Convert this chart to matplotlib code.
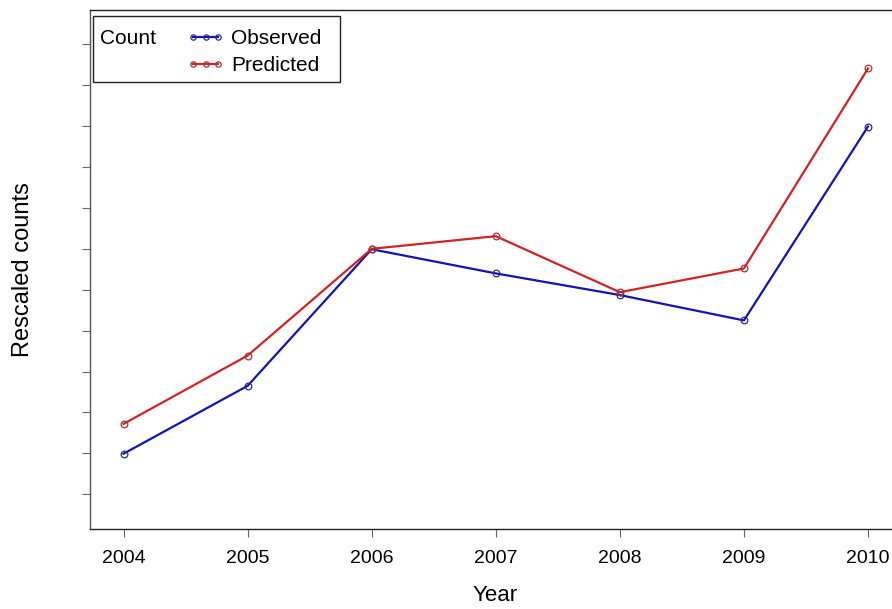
import matplotlib
matplotlib.use("Agg")
import matplotlib.pyplot as plt
from matplotlib.patches import Rectangle

plt.rcParams['font.family'] = ['Liberation Sans', 'DejaVu Sans']

# rescaled yearly counts
years = [2004, 2005, 2006, 2007, 2008, 2009, 2010]
observed = [0.99, 2.65, 5.99, 5.40, 4.87, 4.25, 8.99]
predicted = [1.72, 3.39, 6.00, 6.31, 4.94, 5.52, 10.41]
y_ticks = list(range(12))

fig = plt.figure(figsize=(8.92, 6.09), dpi=100)
# axes runs a little past the right edge of the figure
ax = fig.add_axes([90 / 892, 80 / 609, 810 / 892, 519 / 609])

ax.plot(years, observed, color='#1414b4', lw=1.6, marker='o', ms=4.8,
        mfc='none', mec='#2a2a8c', mew=0.9, label='Observed')
ax.plot(years, predicted, color='#d02424', lw=1.6, marker='o', ms=4.8,
        mfc='none', mec='#a83030', mew=0.9, label='Predicted')

ax.set_xlim(2003.73, 2010.258)
ax.set_ylim(-0.85, 11.84)
ax.set_xticks(years)
ax.set_yticks(y_ticks)
ax.set_yticklabels([])
ax.tick_params(axis='x', length=6, width=0.8, color='#666666', pad=9, labelsize=14)
ax.tick_params(axis='y', length=6, width=0.8, color='#666666')

for s in ax.spines.values():
    s.set_linewidth(1.0)
ax.spines['left'].set_color('#555555')
ax.spines['bottom'].set_color('#222222')
ax.spines['top'].set_color('#222222')

ax.set_xlabel('Year', fontsize=16)
ax.xaxis.set_label_coords(0.5, -0.108)
ax.set_ylabel('Rescaled counts', fontsize=17)
ax.yaxis.set_label_coords(-0.069, 0.5)


def to_ax(px, py):
    # pixel position -> axes fraction
    return (px - 90) / 810, (529 - py) / 519


# legend box with the "Count" caption on the left
bx, by = to_ax(93, 82)
ax.add_patch(Rectangle((bx, by), 247 / 810, 66 / 519, transform=ax.transAxes,
                       fill=False, ec='#222222', lw=1.0, clip_on=False))
ax.text(*to_ax(100, 39), 'Count', transform=ax.transAxes,
        fontsize=15, va='center', ha='left')
ax.legend(loc='upper left', bbox_to_anchor=to_ax(187, 29), frameon=False,
          numpoints=3, markerscale=0.8, fontsize=15, handlelength=1.8,
          handletextpad=0.33, labelspacing=0.4, borderaxespad=0.0, borderpad=0.0)

fig.savefig('out.png', dpi=100)
